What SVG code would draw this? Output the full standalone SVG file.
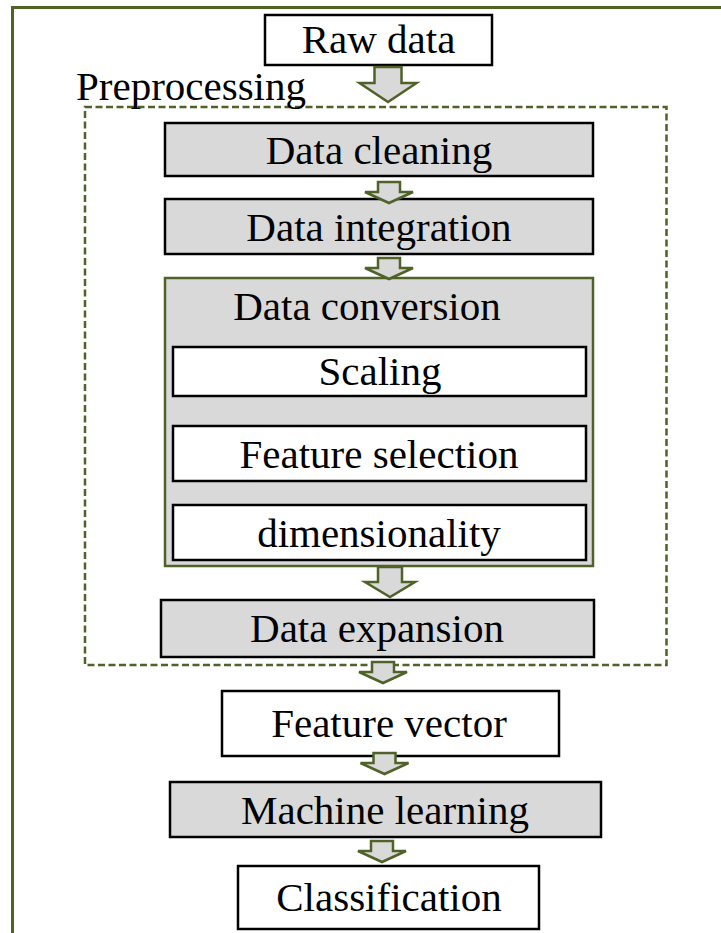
<svg xmlns="http://www.w3.org/2000/svg" width="721" height="933" viewBox="0 0 721 933">
  <style>
    text { font-family: "Liberation Serif", "Times New Roman", serif; font-size: 41px; fill: #000; text-anchor: middle; }
    .box { stroke: #000; stroke-width: 2.5; }
    .gray { fill: #d9d9d9; }
    .white { fill: #fff; }
    .arrow { fill: #d9d9d9; stroke: #4f6228; stroke-width: 2.5; stroke-linejoin: miter; }
  </style>
  <defs>
    <!-- block arrows: shaft on top, triangular head below, origin at the top centre -->
    <path id="arrowBig" d="M -13.5 0 H 13.5 V 16 H 28.5 L 0 35 L -28.5 16 H -13.5 Z"/>
    <path id="arrowSmall" d="M -11 0 H 11 V 10 H 24 L 0 21 L -24 10 H -11 Z"/>
    <path id="arrowMid" d="M -12 0 H 12 V 15 H 25 L 0 30 L -25 15 H -12 Z"/>
  </defs>

  <rect width="721" height="933" fill="#fff"/>

  <!-- outer frame -->
  <rect id="frame" x="12.5" y="7.5" width="730" height="950" fill="none" stroke="#4f6228" stroke-width="3"/>

  <!-- preprocessing region -->
  <g id="preprocessing">
    <rect x="85" y="107" width="581.5" height="558" fill="none" stroke="#4f6228" stroke-width="2.5" stroke-dasharray="7 3.5"/>
    <text x="191" y="100">Preprocessing</text>
  </g>

  <g id="raw-data">
    <rect class="box white" x="265" y="15" width="227" height="50"/>
    <text x="378.5" y="53">Raw data</text>
  </g>

  <g id="data-cleaning">
    <rect class="box gray" x="165" y="123" width="428" height="53"/>
    <text x="379" y="164">Data cleaning</text>
  </g>

  <g id="data-integration">
    <rect class="box gray" x="165" y="199" width="428" height="55"/>
    <text x="379" y="241">Data integration</text>
  </g>

  <g id="data-conversion">
    <rect x="165" y="278" width="428" height="288" fill="#d9d9d9" stroke="#4f6228" stroke-width="2.5"/>
    <text x="367" y="320">Data conversion</text>
  </g>

  <g id="scaling">
    <rect class="box white" x="173" y="347" width="413" height="49"/>
    <text x="380" y="385">Scaling</text>
  </g>

  <g id="feature-selection">
    <rect class="box white" x="173" y="426" width="413" height="55"/>
    <text x="379" y="468">Feature selection</text>
  </g>

  <g id="dimensionality">
    <rect class="box white" x="173" y="505" width="413" height="55"/>
    <text x="379" y="547">dimensionality</text>
  </g>

  <g id="data-expansion">
    <rect class="box gray" x="161" y="600" width="433" height="57"/>
    <text x="377" y="642">Data expansion</text>
  </g>

  <g id="feature-vector">
    <rect class="box white" x="222" y="691" width="337" height="65"/>
    <text x="389" y="737">Feature vector</text>
  </g>

  <g id="machine-learning">
    <rect class="box gray" x="170" y="782" width="431" height="55"/>
    <text x="385" y="824">Machine learning</text>
  </g>

  <g id="classification">
    <rect class="box white" x="238" y="866" width="301" height="63"/>
    <text x="389" y="911">Classification</text>
  </g>

  <!-- connectors -->
  <g id="connectors">
    <use href="#arrowBig" class="arrow" x="388" y="67"/>
    <use href="#arrowSmall" class="arrow" x="389" y="182"/>
    <use href="#arrowSmall" class="arrow" x="389" y="258"/>
    <use href="#arrowMid" class="arrow" x="390" y="567"/>
    <use href="#arrowSmall" class="arrow" x="383" y="662"/>
    <use href="#arrowSmall" class="arrow" x="384.5" y="753"/>
    <use href="#arrowSmall" class="arrow" x="382" y="841"/>
  </g>
</svg>
